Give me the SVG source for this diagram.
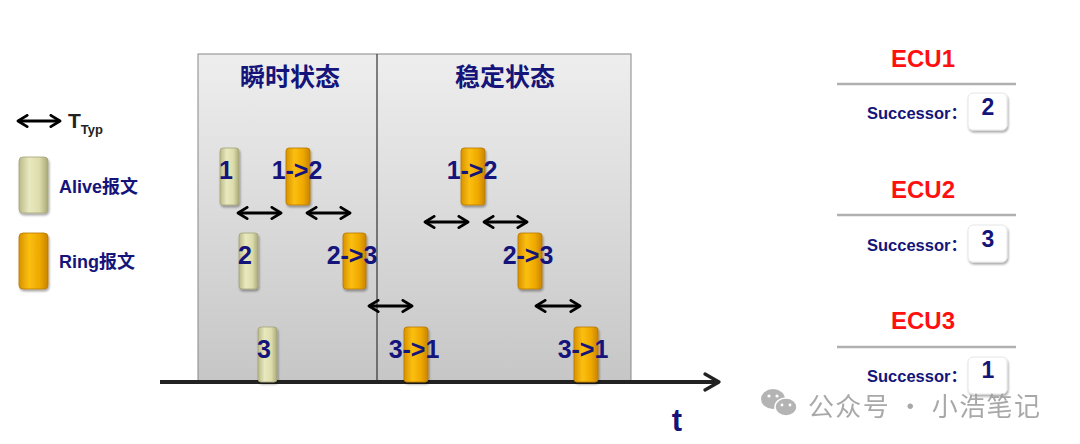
<svg xmlns="http://www.w3.org/2000/svg" width="1080" height="444" viewBox="0 0 1080 444">
<defs>
<linearGradient id="panelG" x1="0" y1="0" x2="0" y2="1"><stop offset="0" stop-color="#eeeeee"/><stop offset="1" stop-color="#c6c6c6"/></linearGradient>
<linearGradient id="aliveG" x1="0" y1="0" x2="1" y2="0"><stop offset="0" stop-color="#b9b98a"/><stop offset="0.35" stop-color="#e9e9bf"/><stop offset="0.7" stop-color="#dcdcac"/><stop offset="1" stop-color="#a9a97a"/></linearGradient>
<linearGradient id="ringG" x1="0" y1="0" x2="1" y2="0"><stop offset="0" stop-color="#d89200"/><stop offset="0.35" stop-color="#fbbf10"/><stop offset="0.7" stop-color="#f0aa00"/><stop offset="1" stop-color="#c98400"/></linearGradient>
<filter id="sh" x="-30%" y="-20%" width="160%" height="140%"><feDropShadow dx="1" dy="2" stdDeviation="1.2" flood-color="#000" flood-opacity="0.35"/></filter>
<marker id="ah" viewBox="0 0 10 10" refX="8" refY="5" markerWidth="4.4" markerHeight="4.4" orient="auto-start-reverse" markerUnits="strokeWidth"><path d="M1.5,1 L8,5 L1.5,9" fill="none" stroke="#000" stroke-width="2" stroke-linecap="round" stroke-linejoin="round"/></marker>
<marker id="axh" viewBox="0 0 10 10" refX="8" refY="5" markerWidth="5" markerHeight="5" orient="auto" markerUnits="strokeWidth"><path d="M1,1 L8,5 L1,9" fill="none" stroke="#222" stroke-width="1.6" stroke-linecap="round" stroke-linejoin="round"/></marker>
</defs>
<style>
.nv{fill:#14147a;font-family:"Liberation Sans","Noto Sans CJK SC",sans-serif;font-weight:bold}
.lbl{font-size:25px}
.alive{fill:url(#aliveG);stroke:#a3a378;stroke-width:0.8;filter:url(#sh)}
.ring{fill:url(#ringG);stroke:#b97a00;stroke-width:0.8;filter:url(#sh)}
.dbl{stroke:#000;stroke-width:3.2;fill:none;marker-start:url(#ah);marker-end:url(#ah)}
.ecu{fill:#ff1010;font-family:"Liberation Sans",sans-serif;font-weight:bold;font-size:24px;text-anchor:middle}
.sep{stroke:#b0b0b0;stroke-width:2.5}
.box{fill:#fff;stroke:#e6e6e6;stroke-width:1;filter:url(#sh)}
.succ{font-size:16.5px}
.num{font-size:23px;text-anchor:middle}
</style>
<rect width="1080" height="444" fill="#fff"/>
<g id="panel">
<rect x="198" y="54" width="433" height="328" fill="url(#panelG)" stroke="#888" stroke-width="1"/>
<line x1="377" y1="54" x2="377" y2="382" stroke="#333" stroke-width="1.2"/>
<text class="nv" x="290" y="86" font-size="25" text-anchor="middle">瞬时状态</text>
<text class="nv" x="505" y="86" font-size="25" text-anchor="middle">稳定状态</text>
</g>
<g id="axis">
<line x1="160" y1="382" x2="719" y2="382" stroke="#222" stroke-width="4" marker-end="url(#axh)"/>
<text class="nv" x="677" y="431" font-size="31" text-anchor="middle">t</text>
</g>
<g id="legend">
<line class="dbl" x1="18" y1="121" x2="60" y2="121"/>
<text x="68" y="128" font-family="Liberation Sans,sans-serif" font-weight="bold" font-size="21" fill="#222">T<tspan font-size="13" dy="6">Typ</tspan></text>
<rect class="alive" x="19" y="157" width="29" height="56" rx="4"/>
<text class="nv" x="59" y="193" font-size="18">Alive报文</text>
<rect class="ring" x="19" y="233" width="29" height="56" rx="4"/>
<text class="nv" x="59" y="268" font-size="18">Ring报文</text>
</g>
<g id="msg-alive1"><rect class="alive" x="220" y="148" width="19" height="57" rx="3"/><text class="nv lbl" x="219" y="179">1</text></g>
<g id="msg-ring12a"><rect class="ring" x="286" y="148" width="24" height="57" rx="3"/><text class="nv lbl" x="297" y="179" text-anchor="middle">1-&gt;2</text></g>
<g id="msg-alive2"><rect class="alive" x="239" y="233" width="19" height="56" rx="3"/><text class="nv lbl" x="238" y="264">2</text></g>
<g id="msg-ring23a"><rect class="ring" x="343" y="233" width="23" height="56" rx="3"/><text class="nv lbl" x="352" y="264" text-anchor="middle">2-&gt;3</text></g>
<g id="msg-alive3"><rect class="alive" x="258" y="327" width="19" height="55" rx="3"/><text class="nv lbl" x="257" y="358">3</text></g>
<g id="msg-ring31a"><rect class="ring" x="404" y="327" width="24" height="55" rx="3"/><text class="nv lbl" x="414" y="358" text-anchor="middle">3-&gt;1</text></g>
<g id="msg-ring12b"><rect class="ring" x="461" y="148" width="24" height="57" rx="3"/><text class="nv lbl" x="472" y="179" text-anchor="middle">1-&gt;2</text></g>
<g id="msg-ring23b"><rect class="ring" x="518" y="233" width="24" height="56" rx="3"/><text class="nv lbl" x="528" y="264" text-anchor="middle">2-&gt;3</text></g>
<g id="msg-ring31b"><rect class="ring" x="574" y="327" width="24" height="55" rx="3"/><text class="nv lbl" x="583" y="358" text-anchor="middle">3-&gt;1</text></g>
<g id="connectors">
<line class="dbl" x1="238" y1="213" x2="281" y2="213"/>
<line class="dbl" x1="307" y1="213" x2="350" y2="213"/>
<line class="dbl" x1="425" y1="222" x2="468" y2="222"/>
<line class="dbl" x1="484" y1="222" x2="527" y2="222"/>
<line class="dbl" x1="369" y1="306" x2="412" y2="306"/>
<line class="dbl" x1="536" y1="306" x2="580" y2="306"/>
</g>
<g id="ecu1">
<text class="ecu" x="923" y="67">ECU1</text>
<line class="sep" x1="837" y1="84" x2="1016" y2="84"/>
<text class="nv succ" x="867" y="119">Successor：</text>
<rect class="box" x="968" y="93" width="39" height="37" rx="5"/>
<text class="nv num" x="988" y="115">2</text>
</g>
<g id="ecu2">
<text class="ecu" x="923" y="198">ECU2</text>
<line class="sep" x1="837" y1="215" x2="1016" y2="215"/>
<text class="nv succ" x="867" y="251">Successor：</text>
<rect class="box" x="968" y="225" width="39" height="37" rx="5"/>
<text class="nv num" x="988" y="247">3</text>
</g>
<g id="ecu3">
<text class="ecu" x="923" y="329">ECU3</text>
<line class="sep" x1="837" y1="347" x2="1016" y2="347"/>
<rect class="box" x="968" y="357" width="39" height="37" rx="5"/>
<text class="nv succ" x="867" y="382">Successor：</text>
<text class="nv num" x="988" y="378">1</text>
</g>
<g id="watermark" opacity="0.85">
<ellipse cx="773" cy="399" rx="12" ry="10" fill="#a8a8a8"/>
<ellipse cx="786" cy="407" rx="11" ry="9" fill="#a8a8a8" stroke="#fff" stroke-width="1.5"/>
<circle cx="769" cy="396" r="1.6" fill="#fff"/><circle cx="777" cy="396" r="1.6" fill="#fff"/>
<circle cx="782" cy="405" r="1.4" fill="#fff"/><circle cx="790" cy="405" r="1.4" fill="#fff"/>
<text x="808" y="416" font-family="Noto Sans CJK SC,sans-serif" font-size="26" fill="#9a9a9a" textLength="232" lengthAdjust="spacing">公众号 · 小浩笔记</text>
</g>
</svg>
